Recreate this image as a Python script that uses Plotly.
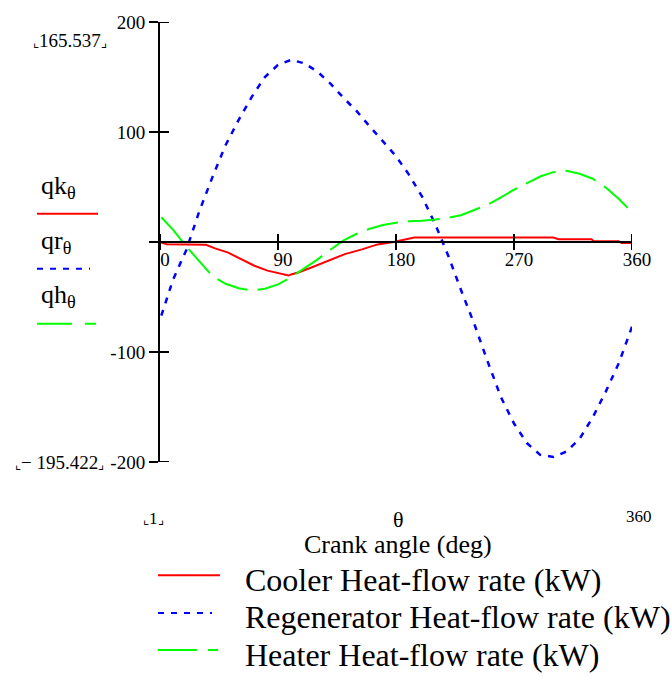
import plotly.graph_objects as go

# ---------------- data ----------------
theta = [1, 10, 20, 30, 40, 50, 60, 70, 80, 90, 100, 110, 120, 130, 140, 150, 160, 170, 180,
         190, 200, 210, 220, 230, 240, 250, 260, 270, 280, 290, 300, 310, 320, 330, 340, 350, 360]
qr = [-67, -34, -7.5, 28, 59, 88, 111, 132, 150, 161, 165.537, 162.5, 155, 144, 131, 119, 105, 92, 78,
      61, 41, 16, -13, -45, -75.5, -109, -141, -165, -183, -193.5, -195.422, -190.5, -179, -159.5, -136, -110, -77]
qh = [22.5, 11, -4, -18, -31, -38, -42, -44, -42.5, -38.5, -32, -24, -16, -7, 1.5, 7.5, 12, 15.5, 17.5,
      18.8, 19.3, 20.5, 22, 24.5, 29, 34, 40.5, 47.5, 53.5, 59.5, 63.5, 64.7, 62, 57.5, 49.5, 39, 27]

theta_k = [1, 5, 35, 42, 52, 62, 72, 82, 90, 98, 100, 106, 116, 128, 141, 154, 166, 179, 186, 194,
           300, 304, 329, 331, 350, 352, 360]
qk = [-0.5, -2, -2.5, -5.8, -9.7, -15.6, -21.6, -26, -28.4, -30.5, -29.5, -27.5, -23, -17, -11, -6.7,
      -2.2, 0.2, 2.2, 4, 4, 2.5, 2.5, 0.7, 0.7, -1, -1]

x_ticks = [0, 90, 180, 270, 360]
x_ticktext = ["0", "90", "180", "270", "360"]
y_ticks = [-200, -100, 0, 100, 200]
y_ticktext = ["-200", "-100", " ", "100", "200"]

series_names = ["Cooler Heat-flow rate (kW)", "Regenerator Heat-flow rate (kW)", "Heater Heat-flow rate (kW)"]
side_names = ["qk<sub>θ</sub>", "qr<sub>θ</sub>", "qh<sub>θ</sub>"]
colors = ["#FF0000", "#0000FF", "#00FF00"]
dashes = ["solid", "6px,7px", "32px,10px"]
BL = "<span style='font-size:13px'>⌞</span>"
BR = "<span style='font-size:13px'>⌟</span>"
y_max_label = BL + "165.537" + BR
y_min_label = BL + "− 195.422" + BR
x_min_label = BL + "1" + BR
x_max_label = "360"
x_var = "θ"
x_title = "Crank angle (deg)"

FONT = "Liberation Serif"
W, H = 672, 678
L, R, T, B = 160, 40, 14, 216
PW, PH = W - L - R, H - T - B


def px(x):
    return (x - L) / PW


def py(y):
    return (H - B - y) / PH


fig = go.Figure()
fig.add_trace(go.Scatter(x=theta_k, y=qk, mode="lines", line=dict(color=colors[0], width=2, dash=dashes[0])))
fig.add_trace(go.Scatter(x=theta, y=qr, mode="lines", line=dict(color=colors[1], width=2.5, dash=dashes[1])))
fig.add_trace(go.Scatter(x=theta, y=qh, mode="lines", line=dict(color=colors[2], width=2, dash=dashes[2])))

shapes = []
# cross ticks (inside halves) for y axis at x=0
for v in y_ticks:
    shapes.append(dict(type="line", xref="x", yref="y", xsizemode="pixel", xanchor=0,
                       x0=0, x1=9, y0=v, y1=v, line=dict(color="black", width=2)))
# full cross ticks for x axis at y=0
for v in x_ticks:
    shapes.append(dict(type="line", xref="x", yref="y", ysizemode="pixel", yanchor=0,
                       y0=-8, y1=8, x0=v, x1=v, line=dict(color="black", width=2)))

annotations = []
# left legend
side_y_text = [182, 238, 293]
side_y_line = [209.3, 265.3, 321.3]
side_x_end = [98, 90, 96]
for i in range(3):
    annotations.append(dict(text=side_names[i], x=px(39), y=py(side_y_text[i]), xref="paper", yref="paper",
                            xanchor="left", yanchor="middle", showarrow=False,
                            font=dict(family=FONT, size=26, color="black")))
    shapes.append(dict(type="line", xref="paper", yref="paper", x0=px(37), x1=px(side_x_end[i]),
                       y0=py(side_y_line[i]), y1=py(side_y_line[i]),
                       line=dict(color=colors[i], width=2, dash=dashes[i] if i != 2 else "35px,13px")))

# bottom legend
bot_y_text = [582, 620, 658]
bot_y_line = [577.3, 615.7, 653.3]
bot_x_end = [220, 212, 218]
for i in range(3):
    annotations.append(dict(text=series_names[i], x=px(243), y=py(bot_y_text[i]), xref="paper", yref="paper",
                            xanchor="left", yanchor="middle", showarrow=False,
                            font=dict(family=FONT, size=32, color="black")))
    shapes.append(dict(type="line", xref="paper", yref="paper", x0=px(158), x1=px(bot_x_end[i]),
                       y0=py(bot_y_line[i]), y1=py(bot_y_line[i]),
                       line=dict(color=colors[i], width=2, dash=dashes[i] if i != 2 else "39px,11px")))

annotations += [
    dict(text=y_max_label, x=px(70), y=py(33), xref="paper", yref="paper", showarrow=False,
         xanchor="center", yanchor="middle", font=dict(family=FONT, size=19, color="black")),
    dict(text=y_min_label, x=px(59), y=py(463), xref="paper", yref="paper", showarrow=False,
         xanchor="center", yanchor="middle", font=dict(family=FONT, size=19, color="black")),
    dict(text=x_min_label, x=px(153), y=py(520), xref="paper", yref="paper", showarrow=False,
         xanchor="center", yanchor="middle", font=dict(family=FONT, size=17, color="black")),
    dict(text=x_max_label, x=px(639), y=py(517), xref="paper", yref="paper", showarrow=False,
         xanchor="center", yanchor="middle", font=dict(family=FONT, size=17, color="black")),
    dict(text=x_var, x=px(398), y=py(521), xref="paper", yref="paper", showarrow=False,
         xanchor="center", yanchor="middle", font=dict(family=FONT, size=22, color="black")),
    dict(text=x_title, x=px(398), y=py(546), xref="paper", yref="paper", showarrow=False,
         xanchor="center", yanchor="middle", font=dict(family=FONT, size=26, color="black")),
]

fig.update_layout(
    width=W, height=H,
    margin=dict(l=L, r=R, t=T, b=B, pad=0),
    paper_bgcolor="white", plot_bgcolor="white",
    showlegend=False,
    font=dict(family=FONT, size=19, color="black"),
    xaxis=dict(range=[0, 360], tickvals=x_ticks, ticktext=x_ticktext, ticks="",
               showline=True, linecolor="black", linewidth=2,
               showgrid=False, zeroline=False, anchor="free", position=0.5,
               ticklabelshift=5, tickfont=dict(family=FONT, size=19, color="black")),
    yaxis=dict(range=[-200, 200], tickvals=y_ticks, ticktext=y_ticktext, ticks="outside", ticklen=9,
               tickwidth=2, tickcolor="black", showline=True, linecolor="black", linewidth=2,
               showgrid=False, zeroline=False, tickfont=dict(family=FONT, size=19, color="black")),
    shapes=shapes,
    annotations=annotations,
)

fig.write_html("out.html")
